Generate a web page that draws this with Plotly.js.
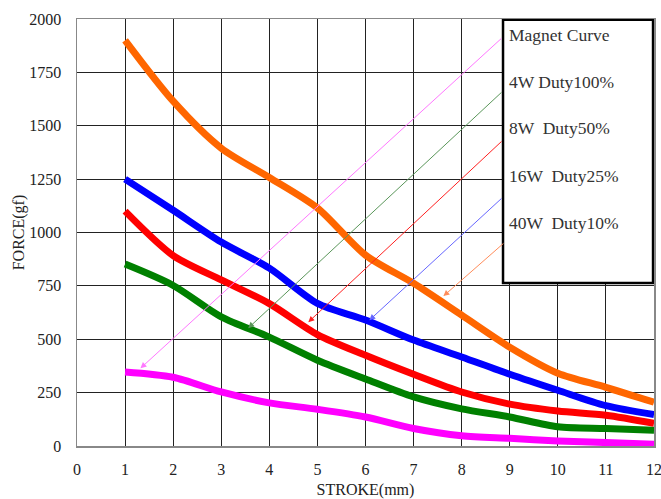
<!DOCTYPE html>
<html>
<head>
<meta charset="utf-8">
<script src="https://cdn.plot.ly/plotly-3.0.1.min.js"></script>
<style>html,body{margin:0;padding:0;background:#fff;}#chart{width:661px;height:499px;}</style>
</head>
<body>
<div id="chart"></div>
<script>
const stroke = [1,2,3,4,5,6,7,8,9,10,11,12];
const magnetCurve = [347,322,253,202,172,136,82,48,36,24,16,8];
const w4Duty100 = [852,752,605,510,402,314,230,174,136,90,82,74];
const w8Duty50 = [1100,892,778,667,522,425,336,253,196,164,144,106];
const w16Duty25 = [1250,1104,955,833,668,590,496,417,336,261,189,147];
const w40Duty10 = [1900,1615,1395,1258,1115,894,762,613,463,341,275,205];
const legendLabels = ["Magnet Curve","4W Duty100%","8W  Duty50%","16W  Duty25%","40W  Duty10%"];
const seriesColors = ["#FF00FF","#008000","#FF0000","#0000FF","#FF6600"];
const arrowColors = ["#FF77FF","#5A965A","#FF2020","#6666FF","#FF8C5A"];
// arrow tails (at legend box edge) and heads (on curves), data coords
const arrowTailX = [8.86,8.86,8.86,8.86,8.90];
const arrowTailY = [1916,1663,1433,1166,955];
const arrowHeadX = [1.32,3.56,4.81,6.08,7.62];
const arrowHeadY = [364,552,580,589,702];
const labelY = [1926,1706,1490,1265,1045];

const seriesData = [magnetCurve,w4Duty100,w8Duty50,w16Duty25,w40Duty10];
const traces = seriesData.map((ys,i)=>({
  x: stroke, y: ys, type:'scatter', mode:'lines', name: legendLabels[i],
  line:{color: seriesColors[i], width:7, shape:'spline', smoothing:0.8},
  hoverinfo:'skip'
}));

const annotations = [];
legendLabels.forEach((t,i)=>{
  annotations.push({x:8.95, y:labelY[i], xref:'x', yref:'y', text:t, showarrow:false,
    xanchor:'left', yanchor:'middle', font:{family:'Liberation Serif', size:17.5, color:'#333'}});
  annotations.push({x:arrowHeadX[i], y:arrowHeadY[i], ax:arrowTailX[i], ay:arrowTailY[i],
    xref:'x', yref:'y', axref:'x', ayref:'y', text:'', showarrow:true,
    arrowhead:2, arrowsize:1.2, arrowwidth:1, arrowcolor:arrowColors[i], standoff:0});
});

const layout = {
  width:661, height:499,
  margin:{l:77, r:7, t:19, b:53},
  paper_bgcolor:'#fff', plot_bgcolor:'#fff',
  showlegend:false,
  font:{family:'Liberation Serif', color:'#222'},
  xaxis:{range:[0,12], dtick:1, tick0:0, showgrid:true, gridcolor:'#222', gridwidth:1,
    zeroline:false, showline:true, linecolor:'#888', linewidth:1.5, mirror:true,
    ticks:'', ticklabelstandoff:8, ticklabeloverflow:'allow',
    tickfont:{family:'Liberation Serif', size:16, color:'#222'},
    title:{text:'STROKE(mm)', font:{family:'Liberation Serif', size:16, color:'#222'}, standoff:15}},
  yaxis:{range:[0,2000], dtick:250, tick0:0, showgrid:true, gridcolor:'#222', gridwidth:1,
    zeroline:false, showline:true, linecolor:'#888', linewidth:1.5, mirror:true,
    ticks:'', ticklabelstandoff:11, ticklabeloverflow:'allow',
    tickfont:{family:'Liberation Serif', size:16, color:'#222'},
    title:{text:'FORCE(gf)', font:{family:'Liberation Serif', size:16, color:'#222'}, standoff:0}},
  shapes:[{type:'rect', xref:'x', yref:'y', x0:8.86, x1:11.98, y0:763, y1:1996,
    line:{color:'#000', width:2.5}, fillcolor:'#fff', layer:'above'}],
  annotations: annotations
};
Plotly.newPlot('chart', traces, layout, {displayModeBar:false, staticPlot:true});
</script>
</body>
</html>
